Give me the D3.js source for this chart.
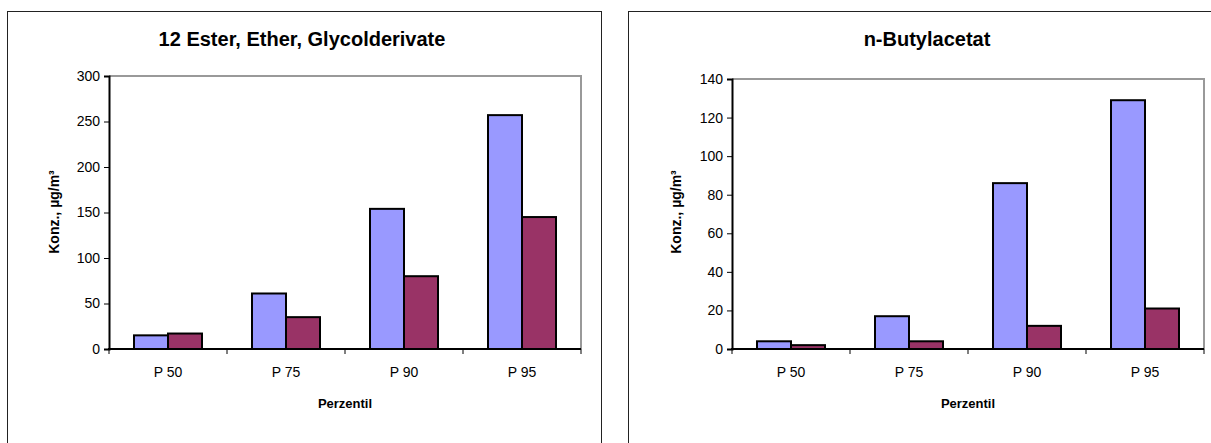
<!DOCTYPE html>
<html>
<head>
<meta charset="utf-8">
<script src="https://cdn.jsdelivr.net/npm/d3@7"></script>
<style>
  body { margin: 0; background: #fff; }
  svg text { font-family: "Liberation Sans", Arial, sans-serif; fill: #000; }
</style>
</head>
<body>
<div id="container"></div>
<script>
/* DATA */
const categories = ["P 50", "P 75", "P 90", "P 95"];

const esterTitle = "12 Ester, Ether, Glycolderivate";
const esterBlue = [15, 61, 154, 257];
const esterRed = [17, 35, 80, 145];
const esterTicks = [0, 50, 100, 150, 200, 250, 300];

const butylTitle = "n-Butylacetat";
const butylBlue = [4, 17, 86, 129];
const butylRed = [2, 4, 12, 21];
const butylTicks = [0, 20, 40, 60, 80, 100, 120, 140];

const yLabel = "Konz., µg/m³";
const xLabel = "Perzentil";

/* CONSTANTS */
const width = 1211;
const height = 443;
const colors = ["#9999ff", "#993366"];

const svg = d3.select("#container")
  .append("svg")
  .attr("width", width)
  .attr("height", height)

function drawChart(opt) {
  const g = svg.append("g")

  // outer frame
  g.append("rect")
    .attr("x", opt.frame[0] + 0.5)
    .attr("y", opt.frame[1] + 0.5)
    .attr("width", opt.frame[2])
    .attr("height", opt.frame[3])
    .attr("fill", "#fff")
    .attr("stroke", "#222")
    .attr("stroke-width", 1)

  const x = d3.scaleBand()
    .domain(categories)
    .range([opt.left, opt.right])

  const inner = d3.scaleBand()
    .domain([0, 1])
    .range([0, 68])

  const y = d3.scaleLinear()
    .domain([0, d3.max(opt.ticks)])
    .range([opt.bottom, opt.top])

  // plot area border (grey top / right)
  g.append("path")
    .attr("d", `M${opt.left},${opt.top}H${opt.right}V${opt.bottom}`)
    .attr("fill", "none")
    .attr("stroke", "#999")
    .attr("stroke-width", 2)

  const series = [opt.blue, opt.red];
  series.forEach((vals, si) => {
    g.selectAll(null)
      .data(vals)
      .join("rect")
      .attr("x", (d, i) => x(categories[i]) + (x.bandwidth() - 68) / 2 + inner(si))
      .attr("y", d => y(d))
      .attr("width", inner.bandwidth())
      .attr("height", d => y(0) - y(d))
      .attr("fill", colors[si])
      .attr("stroke", "#000")
      .attr("stroke-width", 2)
  });

  // y axis
  const yAxis = g.append("g")
    .attr("transform", `translate(${opt.left},0)`)
    .call(d3.axisLeft(y).tickValues(opt.ticks).tickSize(5).tickPadding(4))
  yAxis.select(".domain").attr("stroke", "#000").attr("stroke-width", 2)
  yAxis.selectAll(".tick line").attr("stroke", "#000")
  yAxis.selectAll("text").style("font-size", "14px").attr("fill", "#000")

  // x axis
  const xAxis = g.append("g")
    .attr("transform", `translate(0,${opt.bottom})`)
    .call(d3.axisBottom(x).tickSize(0).tickPadding(18))
  xAxis.select(".domain").remove()
  xAxis.selectAll("text").style("font-size", "14px").attr("fill", "#000")
  g.append("line")
    .attr("x1", opt.left - 1).attr("x2", opt.right)
    .attr("y1", opt.bottom).attr("y2", opt.bottom)
    .attr("stroke", "#000").attr("stroke-width", 2)
  const bounds = categories.map(c => x(c)).concat([opt.right]);
  g.selectAll(null)
    .data(bounds)
    .join("line")
    .attr("x1", d => d).attr("x2", d => d)
    .attr("y1", opt.bottom).attr("y2", opt.bottom + 5)
    .attr("stroke", "#000")

  // titles
  g.append("text")
    .attr("x", opt.titleX)
    .attr("y", 46)
    .attr("text-anchor", "middle")
    .style("font-size", "20px")
    .style("font-weight", "bold")
    .text(opt.title);

  g.append("text")
    .attr("x", (opt.left + opt.right) / 2)
    .attr("y", 408)
    .attr("text-anchor", "middle")
    .style("font-size", "13px")
    .style("font-weight", "bold")
    .text(xLabel);

  g.append("text")
    .attr("transform", `translate(${opt.yLabelX},${opt.yLabelY}) rotate(-90)`)
    .attr("text-anchor", "middle")
    .style("font-size", "14px")
    .style("font-weight", "bold")
    .text(yLabel);
}

drawChart({
  frame: [7, 11, 594, 450],
  left: 109, right: 581, top: 76, bottom: 349,
  blue: esterBlue, red: esterRed, ticks: esterTicks,
  title: esterTitle, titleX: 302,
  yLabelX: 59, yLabelY: 212
});

drawChart({
  frame: [628, 11, 600, 450],
  left: 732, right: 1204, top: 79, bottom: 349,
  blue: butylBlue, red: butylRed, ticks: butylTicks,
  title: butylTitle, titleX: 927,
  yLabelX: 681, yLabelY: 212
});
</script>
</body>
</html>
